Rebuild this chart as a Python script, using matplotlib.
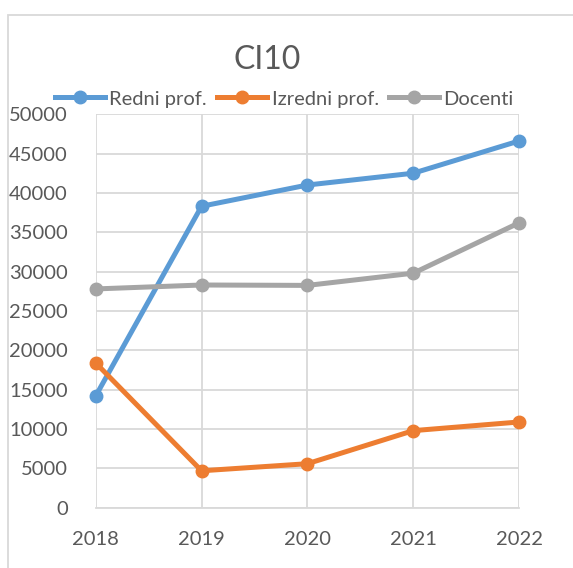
import matplotlib.pyplot as plt
from matplotlib.patches import Rectangle

years = [2018, 2019, 2020, 2021, 2022]
redni = [14200, 38300, 41000, 42500, 46600]
izredni = [18400, 4700, 5600, 9800, 10900]
docenti = [27800, 28300, 28250, 29800, 36200]
series_names = ["Redni prof.", "Izredni prof.", "Docenti"]
colors = ["#5B9BD5", "#ED7D31", "#A5A5A5"]

plt.rcParams["font.family"] = ["Lato", "DejaVu Sans"]
text_col = "#595959"
grid_col = "#D9D9D9"

fig = plt.figure(figsize=(5.73, 5.68), dpi=100)
ax = fig.add_axes([0.167, 0.106, 0.739, 0.693])

for vals, name, c in zip([redni, izredni, docenti], series_names, colors):
    ax.plot(years, vals, color=c, lw=3.6, marker="o", ms=9, label=name,
            clip_on=False, zorder=3)

ax.set_xlim(2018, 2022)
ax.set_ylim(0, 50000)
ax.set_xticks(years)
ax.set_yticks(range(0, 50001, 5000))
ax.grid(True, color=grid_col, lw=1.3)
ax.set_axisbelow(True)
for s in ["top", "right", "left"]:
    ax.spines[s].set_visible(False)
ax.spines["bottom"].set_color(grid_col)
ax.spines["bottom"].set_linewidth(1.3)
ax.tick_params(length=0, labelsize=14.5, colors=text_col)
ax.tick_params(axis="y", pad=20)
ax.tick_params(axis="x", pad=17)

fig.text(0.467, 1 - 60 / 568, "CI10", ha="center", va="center",
         fontsize=23, color=text_col)

fig.legend(loc="center", bbox_to_anchor=(0.496, 1 - 99 / 568), ncol=3,
           frameon=False, fontsize=14.5, handlelength=2.5, handletextpad=0.2,
           columnspacing=0.5, labelcolor=text_col, borderaxespad=0)

fig.patches.append(Rectangle((8 / 573, -0.1), 1.2, 1 - 15 / 568 + 0.1,
                             transform=fig.transFigure, fill=False,
                             ec=grid_col, lw=1.3))

fig.savefig("out.png", dpi=100)
